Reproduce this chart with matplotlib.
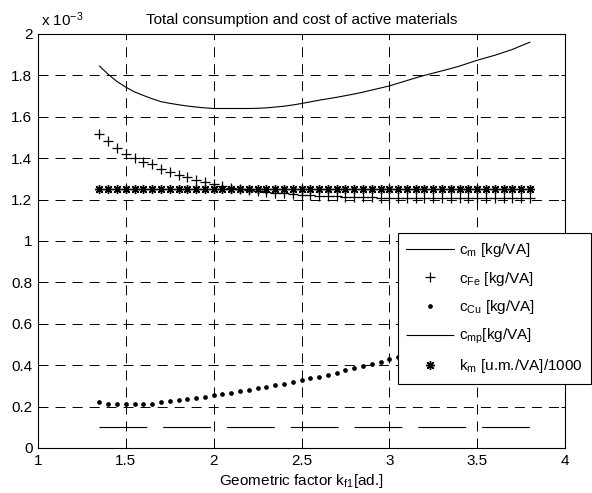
import numpy as np
import matplotlib
matplotlib.use('Agg')
import matplotlib.pyplot as plt

'''
Total consumption and cost of active materials vs geometric factor k_f1.
Values are in units of 1e-3 (see the "x 10^-3" label).
'''

plt.rcParams['font.family'] = ['Liberation Sans', 'DejaVu Sans']
plt.rcParams['mathtext.fontset'] = 'custom'
plt.rcParams['mathtext.rm'] = 'Liberation Sans'
plt.rcParams['mathtext.it'] = 'Liberation Sans'
plt.rcParams['mathtext.default'] = 'regular'

#Geometric factor, 1.35 ... 3.80 in steps of 0.05
kf1 = [1.35, 1.40, 1.45, 1.50, 1.55, 1.60, 1.65, 1.70, 1.75, 1.80,
       1.85, 1.90, 1.95, 2.00, 2.05, 2.10, 2.15, 2.20, 2.25, 2.30,
       2.35, 2.40, 2.45, 2.50, 2.55, 2.60, 2.65, 2.70, 2.75, 2.80,
       2.85, 2.90, 2.95, 3.00, 3.05, 3.10, 3.15, 3.20, 3.25, 3.30,
       3.35, 3.40, 3.45, 3.50, 3.55, 3.60, 3.65, 3.70, 3.75, 3.80]

#Total consumption c_m
c_m = [1.845, 1.805, 1.770, 1.743, 1.720, 1.703, 1.687, 1.673, 1.665, 1.658,
       1.652, 1.647, 1.643, 1.640, 1.640, 1.640, 1.640, 1.640, 1.641, 1.643,
       1.647, 1.651, 1.657, 1.664, 1.672, 1.680, 1.687, 1.694, 1.702, 1.710,
       1.719, 1.729, 1.739, 1.749, 1.762, 1.775, 1.788, 1.800, 1.811, 1.822,
       1.833, 1.845, 1.859, 1.873, 1.885, 1.897, 1.911, 1.925, 1.943, 1.960]

#Iron consumption c_Fe
c_fe = [1.516, 1.482, 1.450, 1.420, 1.403, 1.383, 1.370, 1.350, 1.334, 1.320,
        1.309, 1.296, 1.284, 1.274, 1.264, 1.257, 1.252, 1.247, 1.242, 1.238,
        1.234, 1.230, 1.227, 1.224, 1.221, 1.219, 1.217, 1.215, 1.214, 1.213,
        1.212, 1.211, 1.210, 1.210, 1.209, 1.209, 1.208, 1.208, 1.208, 1.207,
        1.207, 1.207, 1.207, 1.207, 1.207, 1.207, 1.207, 1.207, 1.207, 1.207]

#Copper consumption c_Cu
c_cu = [0.221, 0.213, 0.213, 0.213, 0.213, 0.213, 0.213, 0.221, 0.226, 0.233,
        0.236, 0.242, 0.248, 0.254, 0.262, 0.267, 0.273, 0.280, 0.288, 0.295,
        0.302, 0.311, 0.319, 0.328, 0.336, 0.345, 0.353, 0.363, 0.376, 0.386,
        0.395, 0.404, 0.416, 0.429, 0.440, 0.452, 0.465, 0.478, 0.490, 0.502,
        0.514, 0.527, 0.541, 0.555, 0.568, 0.580, 0.594, 0.608, 0.626, 0.643]

#Insulation consumption c_mp
c_mp = [0.1] * len(kf1)

#Cost k_m/1000
k_m = [1.251, 1.251, 1.251, 1.251, 1.251, 1.251, 1.251, 1.251, 1.251, 1.251,
       1.251, 1.251, 1.251, 1.251, 1.251, 1.250, 1.250, 1.250, 1.250, 1.250,
       1.250, 1.250, 1.250, 1.250, 1.250, 1.250, 1.250, 1.250, 1.250, 1.250,
       1.250, 1.250, 1.250, 1.250, 1.250, 1.250, 1.250, 1.250, 1.250, 1.250,
       1.250, 1.250, 1.250, 1.250, 1.250, 1.250, 1.250, 1.250, 1.250, 1.250]

labels = [r'c$_{m}$ [kg/VA]', r'c$_{Fe}$ [kg/VA]', r'c$_{Cu}$ [kg/VA]',
          r'c$_{mp}$[kg/VA]', r'k$_{m}$ [u.m./VA]/1000']

xticks = [1, 1.5, 2, 2.5, 3, 3.5, 4]
yticks = [0, 0.2, 0.4, 0.6, 0.8, 1, 1.2, 1.4, 1.6, 1.8, 2]

fs = 11

fig = plt.figure(figsize=(5.92, 4.93), dpi=100)
ax = fig.add_axes([0.0642, 0.0913, 0.8902, 0.8398])

ax.plot(kf1, c_m, '-', color='k', lw=0.8, label=labels[0])
ax.plot(kf1, c_fe, '+', color='k', ms=7.5, mew=0.9, label=labels[1])
ax.plot(kf1, c_cu, 'o', color='k', ms=3.4, mew=0, label=labels[2])
#dashes are scaled by the line width, so 43*0.8 pt = 48 px dash
ax.plot(kf1, c_mp, color='k', lw=0.8, dashes=(43, 14.4), label=labels[3])
ax.plot(kf1, k_m, marker=(8, 2, 0), ls='none', color='k', ms=6.5, mew=1.0, label=labels[4])

ax.set_xlim(1, 4)
ax.set_ylim(0, 2)
ax.set_xticks(xticks)
ax.set_xticklabels(['1', '1.5', '2', '2.5', '3', '3.5', '4'])
ax.set_yticks(yticks)
ax.set_yticklabels(['0', '0.2', '0.4', '0.6', '0.8', '1', '1.2', '1.4', '1.6', '1.8', '2'])
ax.tick_params(direction='in', length=3, width=0.7, top=True, right=True,
               labelsize=fs, pad=4, colors='k')
ax.grid(True, color='k', linestyle=(0, (10.3, 7.2)), linewidth=0.7)
for s in ax.spines.values():
    s.set_linewidth(0.8)

ax.set_title('Total consumption and cost of active materials', fontsize=fs, pad=7)
ax.set_xlabel(r'Geometric factor k$_{f1}$[ad.]', fontsize=fs, labelpad=3)
ax.text(0.005, 1.012, r'x 10$^{-3}$', transform=ax.transAxes, fontsize=fs,
        ha='left', va='bottom')

leg = ax.legend(loc='upper left', bbox_to_anchor=(0.683, 0.52), fontsize=fs,
                numpoints=1, handlelength=3.1, handletextpad=0.35,
                borderpad=0.55, labelspacing=0.7, borderaxespad=0,
                fancybox=False, framealpha=1, edgecolor='k')
leg.get_frame().set_linewidth(0.8)

fig.savefig('out.png', dpi=100, facecolor='white')
